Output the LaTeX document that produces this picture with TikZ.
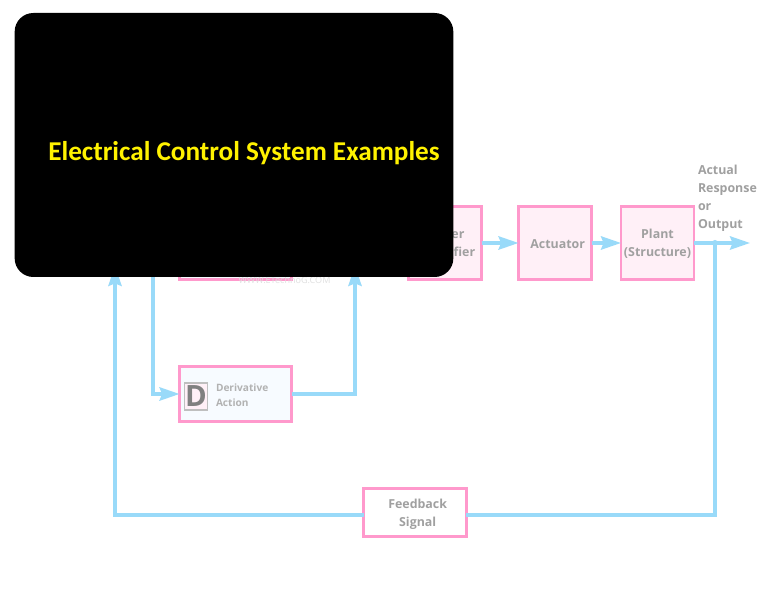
\documentclass[tikz,border=0pt]{standalone}
\usepackage{fontspec}
\setmainfont{Open Sans}
\newfontfamily\titlefont{Carlito}
\usetikzlibrary{arrows.meta,positioning}
\definecolor{cBox}{HTML}{FF99CC}
\definecolor{cFill}{HTML}{FFF0F7}
\definecolor{cPale}{HTML}{F7FBFF}
\definecolor{cSig}{HTML}{99DAF9}
\definecolor{cTxt}{HTML}{A0A0A0}
\tikzset{
  blk/.style    ={draw=cBox,fill=cFill,line width=2.2pt,align=center,inner sep=0pt,
                  text=cTxt,font=\bfseries\fontsize{9.3}{13.5}\selectfont},
  plainblk/.style={blk,fill=white},
  paleblk/.style={blk,fill=cPale},
  sig/.style    ={draw=cSig,line width=2.3pt,-{Stealth[length=15pt,width=10pt,inset=2pt]}},
  wire/.style   ={draw=cSig,line width=2.3pt},
  lbl/.style    ={font=\bfseries\fontsize{9.3}{13.5}\selectfont,text=cTxt,align=left,inner sep=0pt},
  cover/.style  ={fill=black,rounded corners=14pt,inner sep=0pt},
}
\newcommand{\lowstrut}{\rule{0pt}{8.6pt}}
\begin{document}
\begin{tikzpicture}[x=0.75pt,y=0.75pt,every node/.style={outer sep=0pt}]
\useasboundingbox[fill=white] (0,0) rectangle (765,-591);

\node[blk,minimum width=54.75pt,minimum height=54.75pt,anchor=center] (power) at (445,-243)
  {\lowstrut Power\\\hspace*{2pt}Amplifier};
\node[blk,minimum width=54.75pt,minimum height=54.75pt,anchor=center] (actuator) at (555,-243)
  {\hspace*{4pt}\lowstrut Actuator};
\node[blk,minimum width=54.75pt,minimum height=54.75pt,anchor=center] (plant) at (657.5,-243)
  {\lowstrut Plant\\(Structure)};
\node[paleblk,minimum width=84pt,minimum height=41.25pt,anchor=center] (prop) at (235.5,-252) {};
\node[paleblk,minimum width=84pt,minimum height=41.25pt,anchor=center] (deriv) at (235.5,-394) {};
\node[plainblk,minimum width=77pt,minimum height=36pt,anchor=center] (feedback) at (415,-512.5)
  {\rule{0pt}{10pt}\hspace*{4pt}Feedback\\\hspace*{4pt}Signal};

\node[draw=black!25,fill=cFill,line width=1.2pt,minimum width=17pt,minimum height=20.5pt,inner sep=0pt,
  text=black!50,font=\bfseries\fontsize{22}{22}\selectfont] (dicon) at (196,-396.5) {D};
\node[lbl,text=black!30,font=\bfseries\fontsize{7.6}{11.6}\selectfont,anchor=west] (dtext) at (216,-395)
  {Derivative\\Action};
\node[text=black!12,font=\fontsize{6.8}{7}\selectfont,inner sep=0pt] (site) at (284.5,-280)
  {WWW.ETechnoG.COM};

\node[lbl,anchor=north west] (output) at (698,-165)
  {Actual\\Response\\or\\Output};

\coordinate (tipa) at (115,-266);
\coordinate (tipb) at (355,-266);
\coordinate (taka) at (153,-262);
\coordinate (tipc) at (750,-243);
\coordinate (tee) at (715,-243);

\draw[sig] (power.east) -- (actuator.west);
\draw[sig] (actuator.east) -- (plant.west);
\draw[sig] (plant.east) -- (tipc);
\fill[cSig] (tee) circle (3);
\draw[wire] (tee) |- ([yshift=-1.9pt]feedback.east);
\draw[sig] ([yshift=-1.9pt]feedback.west) -| (tipa);
\draw[sig] (taka) |- (deriv.west);
\draw[sig] (deriv.east) -| (tipb);

\node[cover,minimum width=329pt,minimum height=198pt] (title) at (234,-145) {};
\node[text=yellow,font=\titlefont\bfseries\fontsize{20.4}{24}\selectfont,inner sep=0pt] (heading) at (244,-153)
  {Electrical Control System Examples};
\end{tikzpicture}
\end{document}
